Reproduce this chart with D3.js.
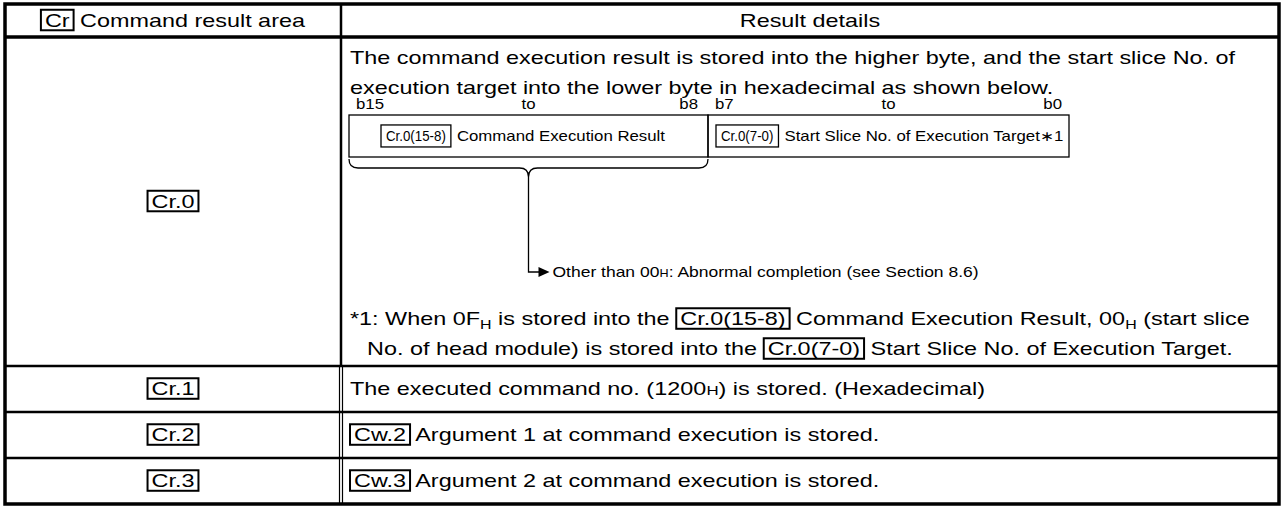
<!DOCTYPE html>
<html><head><meta charset="utf-8">
<script src="https://cdn.jsdelivr.net/npm/d3@7"></script>
<style>
body{margin:0;background:#fff}
text{font-family:"Liberation Sans",Arial,sans-serif;fill:#000;white-space:pre}
</style>
</head><body>
<svg id="c" width="1282" height="507"></svg>
<script>
// ---------- data ----------
const headerBox = "Cr";
const headers = ["Command result area", "Result details"];
const rowLabels = ["Cr.0", "Cr.1", "Cr.2", "Cr.3"];
const cr0Intro = [
  "The command execution result is stored into the higher byte, and the start slice No. of",
  "execution target into the lower byte in hexadecimal as shown below."
];
const bitLabels = ["b15", "to", "b8", "b7", "to", "b0"];
const fieldBoxes = ["Cr.0(15-8)", "Cr.0(7-0)"];
const fieldNames = ["Command Execution Result", "Start Slice No. of Execution Target\u22171"];
const abnormalNote = [{t: "Other than 00"}, {sm: "H"}, {t: ": Abnormal completion (see Section 8.6)"}];
const footnote = [
  [{t: "*1: When 0F"}, {sub: "H"}, {t: " is stored into the "}, {box: "Cr.0(15-8)"}, {t: " Command Execution Result, 00"}, {sub: "H"}, {t: " (start slice"}],
  [{t: "No. of head module) is stored into the "}, {box: "Cr.0(7-0)"}, {t: " Start Slice No. of Execution Target."}]
];
const rowDetails = [
  null,
  [{t: "The executed command no. (1200"}, {sm: "H"}, {t: ") is stored. (Hexadecimal)"}],
  [{box: "Cw.2"}, {t: " Argument 1 at command execution is stored."}],
  [{box: "Cw.3"}, {t: " Argument 2 at command execution is stored."}]
];

// ---------- layout ----------
const L = {left: 5, right: 1279, top: 4, bottom: 504, col: 341,
  rowEdges: [4, 37, 366, 412, 458, 504], fs: 18, sx: 1.3,
  dfs: 14, dsx: 1.2, boxSx: 0.95, noteSx: 1.25};
const svg = d3.select("#c");
const rowScale = d3.scaleOrdinal().domain(["header"].concat(rowLabels)).range(d3.range(5));

function txt(g, x, y, s, size, sx, anchor) {
  const t = g.append("text").attr("font-size", size).text(s);
  const w = t.node().getComputedTextLength() * sx;
  let x0 = x;
  if (anchor === "middle") x0 = x - w / 2;
  if (anchor === "end") x0 = x - w;
  t.attr("transform", `translate(${x0},${y}) scale(${sx},1)`);
  return w;
}
function boxed(g, x, y, s, size, sx, pad, sw, h) {
  const w = txt(g, x + pad, y, s, size, sx);
  const bh = h || size * 1.14;
  const cy = y - size * 0.36;
  g.append("rect").attr("x", x).attr("y", cy - bh / 2).attr("width", w + 2 * pad)
    .attr("height", bh).attr("fill", "none").attr("stroke", "#000").attr("stroke-width", sw);
  return w + 2 * pad;
}
function rich(g, x, y, segs, size, sx, anchor) {
  const gg = g.append("g");
  let cx = 0;
  segs.forEach(s => {
    if (s.t !== undefined) cx += txt(gg, cx, 0, s.t, size, sx);
    else if (s.sub !== undefined) cx += txt(gg, cx, 4, s.sub, size * 0.68, sx);
    else if (s.sm !== undefined) cx += txt(gg, cx, 0, s.sm, size * 0.72, sx);
    else if (s.box !== undefined) cx += boxed(gg, cx, 0, s.box, size, sx, 4, 2);
  });
  let x0 = x;
  if (anchor === "middle") x0 = x - cx / 2;
  gg.attr("transform", `translate(${x0},${y})`);
  return cx;
}

const E = L.rowEdges;
const rowMid = i => (E[i] + E[i + 1]) / 2;
const cellText = svg.append("g");

// header
rich(cellText, (L.left + L.col) / 2, rowMid(0) + 6, [{box: headerBox}, {t: " " + headers[0]}], L.fs, L.sx, "middle");
txt(cellText, (L.col + L.right) / 2, rowMid(0) + 6, headers[1], L.fs, L.sx, "middle");

// left labels
rowLabels.forEach((r, i) => {
  const ri = rowScale(r);
  rich(cellText, (L.left + L.col) / 2, rowMid(ri) + 6, [{box: r}], L.fs, L.sx, "middle");
});

// Cr.0 details
const tx = 350;
cr0Intro.forEach((s, i) => txt(cellText, tx, 64 + i * 30, s, L.fs, L.sx));

// bit diagram
const bx0 = 349, bxm = 708, bx1 = 1069, by0 = 115, by1 = 157;
const dg = svg.append("g");
dg.append("rect").attr("x", bx0).attr("y", by0).attr("width", bxm - bx0).attr("height", by1 - by0)
  .attr("fill", "none").attr("stroke", "#000").attr("stroke-width", 1.3);
dg.append("rect").attr("x", bxm).attr("y", by0).attr("width", bx1 - bxm).attr("height", by1 - by0)
  .attr("fill", "none").attr("stroke", "#000").attr("stroke-width", 1.3);
const bitY = 109;
txt(dg, bx0 + 7, bitY, bitLabels[0], L.dfs, L.dsx);
txt(dg, (bx0 + bxm) / 2, bitY, bitLabels[1], L.dfs, L.dsx, "middle");
txt(dg, bxm - 10, bitY, bitLabels[2], L.dfs, L.dsx, "end");
txt(dg, bxm + 7, bitY, bitLabels[3], L.dfs, L.dsx);
txt(dg, (bxm + bx1) / 2, bitY, bitLabels[4], L.dfs, L.dsx, "middle");
txt(dg, bx1 - 7, bitY, bitLabels[5], L.dfs, L.dsx, "end");
const fy = (by0 + by1) / 2 + 5;
function fieldBox(x, b, name) {
  const g = dg.append("g");
  const w = boxed(g, x, fy, b, L.dfs, L.boxSx, 5, 1.3, 22);
  txt(g, x + w + 6, fy, name, L.dfs, L.dsx);
}
fieldBox(bx0 + 32, fieldBoxes[0], fieldNames[0]);
fieldBox(bxm + 8, fieldBoxes[1], fieldNames[1]);

// brace and arrow
const bc = (bx0 + bxm) / 2, byt = 159, bym = 168, byp = 177;
dg.append("path").attr("fill", "none").attr("stroke", "#000").attr("stroke-width", 1.3)
  .attr("d", `M${bx0},${byt} Q${bx0},${bym} ${bx0 + 9},${bym} L${bc - 9},${bym} Q${bc},${bym} ${bc},${byp}
              Q${bc},${bym} ${bc + 9},${bym} L${bxm - 9},${bym} Q${bxm},${bym} ${bxm},${byt}`);
const ay = 272;
dg.append("path").attr("fill", "none").attr("stroke", "#000").attr("stroke-width", 1.3)
  .attr("d", `M${bc},${byp} L${bc},${ay} L${bc + 12},${ay}`);
dg.append("path").attr("fill", "#000")
  .attr("d", `M${bc + 10},${ay - 5} L${bc + 21},${ay} L${bc + 10},${ay + 5} Z`);
rich(dg, bc + 24, ay + 5, abnormalNote, L.dfs, L.noteSx);

// footnote
rich(cellText, tx, 325, footnote[0], L.fs, L.sx);
rich(cellText, tx + 17, 355, footnote[1], L.fs, L.sx);

// other rows
rowDetails.forEach((d, i) => {
  if (!d) return;
  rich(cellText, tx, rowMid(i + 1) + 6, d, L.fs, L.sx);
});

// ---------- grid ----------
const grid = svg.append("g").attr("stroke", "#000").attr("fill", "none");
E.slice(1, -1).forEach((y, i) => {
  grid.append("line").attr("x1", L.left).attr("x2", L.right).attr("y1", y).attr("y2", y)
    .attr("stroke-width", i === 0 ? 3.5 : 2.5);
});
grid.append("line").attr("x1", L.col).attr("x2", L.col).attr("y1", E[0]).attr("y2", E[2]).attr("stroke-width", 2.5);
[L.col - 1.5, L.col + 1.5].forEach(x =>
  grid.append("line").attr("x1", x).attr("x2", x).attr("y1", E[2]).attr("y2", E[5]).attr("stroke-width", 1.2));
grid.append("rect").attr("x", L.left).attr("y", L.top).attr("width", L.right - L.left)
  .attr("height", L.bottom - L.top).attr("stroke-width", 3.5);
</script>
</body></html>
